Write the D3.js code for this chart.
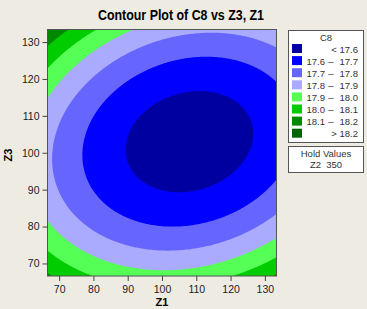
<!DOCTYPE html>
<html>
<head>
<meta charset="utf-8">
<script src="https://cdn.jsdelivr.net/npm/d3@7"></script>
<style>
  body { margin: 0; background: #eeebe2; }
  svg { display: block; }
  text { font-family: "Liberation Sans", Arial, sans-serif; }
</style>
</head>
<body>
<svg width="367" height="309"></svg>
<script>
// contour levels and their colours (legend order)
var levels = [17.6, 17.7, 17.8, 17.9, 18.0, 18.1, 18.2];
var colors = ["#0000a0", "#0000ff", "#6666ff", "#aaaaff", "#55ff55", "#00cc00", "#008800", "#006400"];
var legendLeft = ["<", "17.6", "17.7", "17.8", "17.9", "18.0", "18.1", ">"];
var legendRight = ["17.6", "17.7", "17.8", "17.9", "18.0", "18.1", "18.2", "18.2"];

var xTicks = [70, 80, 90, 100, 110, 120, 130];
var yTicks = [70, 80, 90, 100, 110, 120, 130];
var domain = [66.6, 133.4];

// fitted response surface (Z2 held at 350):
// C8 = min + a*(Z1-c1)^2 + b*(Z3-c3)^2 + ab*(Z1-c1)*(Z3-c3)
var surfaceCenter = [108, 103];
var surfaceMin = 17.545;
var quadCoef = [0.000163, 0.0003, -0.00007];

function surface(z1, z3) {
    var u = z1 - surfaceCenter[0], v = z3 - surfaceCenter[1];
    return surfaceMin + quadCoef[0] * u * u + quadCoef[1] * v * v + quadCoef[2] * u * v;
}

var svg = d3.select("svg");
var plot = {left: 47.5, right: 276.5, top: 29.5, bottom: 276};

var x = d3.scaleLinear().domain(domain).range([plot.left, plot.right]);
var y = d3.scaleLinear().domain(domain).range([plot.bottom, plot.top]);

// grid for the contours
var nx = 230, ny = 247;
var gx = d3.scaleLinear().domain([0, nx]).range(domain);
var gy = d3.scaleLinear().domain([0, ny]).range([domain[1], domain[0]]);
var values = new Array(nx * ny);
for (var j = 0; j < ny; j++) {
    for (var i = 0; i < nx; i++) {
        values[j * nx + i] = surface(gx(i + 0.5), gy(j + 0.5));
    }
}

var contours = d3.contours().size([nx, ny]).thresholds(levels)(values);
var path = d3.geoPath(d3.geoTransform({
    point: function(px, py) { this.stream.point(x(gx(px)), y(gy(py))); }
}));

svg.append("clipPath").attr("id", "clip")
    .append("rect")
    .attr("x", plot.left).attr("y", plot.top)
    .attr("width", plot.right - plot.left).attr("height", plot.bottom - plot.top);

var g = svg.append("g").attr("clip-path", "url(#clip)");
g.append("rect")
    .attr("x", plot.left).attr("y", plot.top)
    .attr("width", plot.right - plot.left).attr("height", plot.bottom - plot.top)
    .attr("fill", colors[0]);
g.selectAll("path.band")
    .data(contours)
    .enter().append("path")
    .attr("class", "band")
    .attr("d", path)
    .attr("fill", function(d, i) { return colors[i + 1]; });

svg.append("rect")
    .attr("x", plot.left).attr("y", plot.top)
    .attr("width", plot.right - plot.left).attr("height", plot.bottom - plot.top)
    .attr("fill", "none").attr("stroke", "#555").attr("stroke-width", 1);

// axes
var xAxis = svg.append("g")
    .attr("transform", "translate(0," + plot.bottom + ")")
    .call(d3.axisBottom(x).tickValues(xTicks).tickSize(5).tickSizeOuter(0));
var yAxis = svg.append("g")
    .attr("transform", "translate(" + plot.left + ",0)")
    .call(d3.axisLeft(y).tickValues(yTicks).tickSize(5).tickSizeOuter(0));
[xAxis, yAxis].forEach(function(a) {
    a.select(".domain").remove();
    a.selectAll("line").attr("stroke", "#444");
    a.selectAll("text").attr("font-size", 10.5).attr("fill", "#222")
        .style("font-family", "'Liberation Sans', Arial, sans-serif");
});
xAxis.selectAll("text").attr("dy", "0.9em");

svg.append("text")
    .attr("x", 181).attr("y", 20)
    .attr("text-anchor", "middle")
    .attr("font-size", 14).attr("font-weight", "bold")
    .attr("textLength", 166).attr("lengthAdjust", "spacingAndGlyphs")
    .text("Contour Plot of C8 vs Z3, Z1");

svg.append("text")
    .attr("x", 162).attr("y", 306)
    .attr("text-anchor", "middle")
    .attr("font-size", 11).attr("font-weight", "bold")
    .text("Z1");

svg.append("text")
    .attr("transform", "translate(12,155) rotate(-90)")
    .attr("text-anchor", "middle")
    .attr("font-size", 11).attr("font-weight", "bold")
    .text("Z3");

// legend
var leg = svg.append("g");
leg.append("rect")
    .attr("x", 288.5).attr("y", 30.5).attr("width", 75).attr("height", 112)
    .attr("fill", "#fff").attr("stroke", "#555");
leg.append("text")
    .attr("x", 326).attr("y", 41)
    .attr("text-anchor", "middle").attr("font-size", 9.5).attr("fill", "#333")
    .text("C8");

var rows = leg.selectAll("g.row")
    .data(colors)
    .enter().append("g")
    .attr("class", "row")
    .attr("transform", function(d, i) { return "translate(0," + (49 + i * 12.1) + ")"; });
rows.append("rect")
    .attr("x", 292).attr("y", -5).attr("width", 10).attr("height", 9)
    .attr("fill", function(d) { return d; });
rows.append("text")
    .attr("x", function(d, i) { return (i === 0 || i === colors.length - 1) ? 334 : 325; })
    .attr("y", 3.5)
    .attr("text-anchor", function(d, i) { return (i === 0 || i === colors.length - 1) ? "middle" : "end"; })
    .attr("font-size", 9.5).attr("fill", "#333")
    .text(function(d, i) { return legendLeft[i]; });
rows.filter(function(d, i) { return i > 0 && i < colors.length - 1; })
    .append("text")
    .attr("x", 331).attr("y", 3.5)
    .attr("text-anchor", "middle").attr("font-size", 9.5).attr("fill", "#333")
    .text("\u2013");
rows.append("text")
    .attr("x", 358).attr("y", 3.5)
    .attr("text-anchor", "end").attr("font-size", 9.5).attr("fill", "#333")
    .text(function(d, i) { return legendRight[i]; });

var hold = svg.append("g");
hold.append("rect")
    .attr("x", 288.5).attr("y", 146.5).attr("width", 75).attr("height", 26)
    .attr("fill", "#fff").attr("stroke", "#555");
hold.append("text")
    .attr("x", 326).attr("y", 157)
    .attr("text-anchor", "middle").attr("font-size", 9.5).attr("fill", "#333")
    .text("Hold Values");
hold.append("text")
    .attr("x", 326).attr("y", 168)
    .attr("text-anchor", "middle").attr("font-size", 9.5).attr("fill", "#333")
    .attr("xml:space", "preserve")
    .text("Z2  350");
</script>
</body>
</html>
